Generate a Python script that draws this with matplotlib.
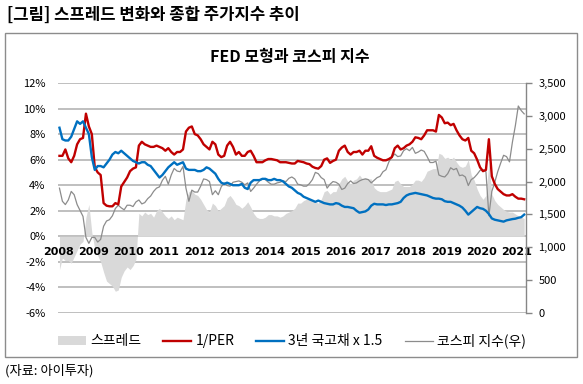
import numpy as np
import matplotlib
matplotlib.use("Agg")
import matplotlib.pyplot as plt
from matplotlib.patches import Patch, Rectangle
from matplotlib.lines import Line2D

plt.rcParams['font.family'] = ['Noto Sans CJK KR', 'DejaVu Sans']

# ---------------- data (monthly, Jan 2008 - Mar 2021) ----------------
years = ["2008", "2009", "2010", "2011", "2012", "2013", "2014",
         "2015", "2016", "2017", "2018", "2019", "2020", "2021"]

# 1/PER (%)
inv_per = [
    6.3, 6.3, 6.8, 6.1, 5.8, 6.3, 7.2, 7.6, 7.7, 9.6, 8.6, 8.0,      # 2008
    5.4, 5.0, 4.8, 2.6, 2.4, 2.35, 2.35, 2.6, 2.5, 3.9, 4.25, 4.6,   # 2009
    5.1, 5.3, 5.4, 7.1, 7.4, 7.2, 7.1, 7.0, 7.0, 7.1, 7.0, 6.9,      # 2010
    6.7, 6.9, 6.6, 6.4, 6.6, 6.6, 6.8, 8.2, 8.5, 8.6, 8.0, 7.9,      # 2011
    7.6, 7.2, 7.0, 6.8, 7.4, 7.2, 6.4, 6.2, 6.3, 7.1, 7.4, 7.0,      # 2012
    6.4, 6.6, 6.3, 6.3, 6.6, 6.7, 6.3, 5.8, 5.8, 5.8, 5.95, 6.05,    # 2013
    6.05, 6.0, 5.95, 5.8, 5.8, 5.8, 5.75, 5.7, 5.7, 5.9, 5.85, 5.8,  # 2014
    5.7, 5.65, 5.45, 5.35, 5.3, 5.5, 6.0, 6.1, 5.75, 5.9, 6.0, 6.7,  # 2015
    6.95, 7.1, 6.6, 6.4, 6.6, 6.6, 6.7, 6.4, 6.7, 6.7, 7.05, 6.3,    # 2016
    6.15, 6.05, 5.95, 5.95, 6.05, 6.2, 6.9, 7.1, 6.8, 6.9, 7.1, 7.2, # 2017
    7.4, 7.75, 7.7, 7.6, 7.9, 8.3, 8.3, 8.3, 8.2, 9.5, 9.3, 8.85,    # 2018
    8.9, 8.7, 8.8, 8.3, 7.9, 7.6, 7.5, 7.7, 6.7, 6.5, 6.0, 5.4,      # 2019
    5.1, 5.2, 7.6, 4.7, 4.1, 3.7, 3.5, 3.3, 3.2, 3.2, 3.3, 3.1,      # 2020
    2.95, 2.95, 2.9,                                                 # 2021
]

# 3-year KTB yield x 1.5 (%)
ktb3y_x15 = [
    8.5, 7.6, 7.5, 7.5, 7.8, 8.4, 9.0, 8.8, 9.0, 8.5, 8.0, 6.2,      # 2008
    5.2, 5.5, 5.5, 5.4, 5.7, 6.0, 6.4, 6.6, 6.5, 6.7, 6.5, 6.3,      # 2009
    6.1, 5.9, 5.8, 5.7, 5.8, 5.8, 5.6, 5.5, 5.2, 4.9, 4.6, 4.8,      # 2010
    5.1, 5.4, 5.6, 5.8, 5.6, 5.7, 5.8, 5.3, 5.2, 5.2, 5.2, 5.1,      # 2011
    5.1, 5.2, 5.4, 5.3, 5.1, 4.9, 4.5, 4.2, 4.1, 4.2, 4.1, 4.0,      # 2012
    4.0, 4.0, 4.1, 3.8, 3.7, 4.2, 4.4, 4.4, 4.4, 4.5, 4.5, 4.4,      # 2013
    4.4, 4.5, 4.4, 4.4, 4.3, 4.1, 3.9, 3.8, 3.6, 3.4, 3.3, 3.1,      # 2014
    3.0, 2.9, 2.8, 2.7, 2.8, 2.7, 2.6, 2.55, 2.5, 2.5, 2.6, 2.55,    # 2015
    2.4, 2.3, 2.3, 2.25, 2.2, 2.0, 1.85, 1.9, 1.95, 2.1, 2.4, 2.55,  # 2016
    2.5, 2.5, 2.5, 2.45, 2.5, 2.5, 2.55, 2.6, 2.7, 3.0, 3.2, 3.3,    # 2017
    3.35, 3.4, 3.35, 3.3, 3.25, 3.2, 3.1, 3.0, 2.95, 2.95, 2.9, 2.75,# 2018
    2.7, 2.7, 2.6, 2.5, 2.4, 2.25, 2.0, 1.7, 1.9, 2.1, 2.3, 2.2,     # 2019
    2.15, 2.0, 1.75, 1.4, 1.3, 1.25, 1.2, 1.15, 1.25, 1.3, 1.35, 1.38,  # 2020
    1.45, 1.5, 1.7,                                                  # 2021
]

# spread (%)
spread = [
    -2.6, -1.7, -1.9, -1.9, -2.1, -1.6, -1.1, -0.6, -0.4, 1.5, 2.5, 0.3,   # 2008
    -1.0, -1.5, -2.0, -2.8, -3.5, -3.7, -3.9, -4.3, -4.2, -3.2, -2.7, -2.4, # 2009
    -2.6, -2.3, -1.8, 1.8, 1.6, 1.9, 1.7, 1.8, 1.5, 2.0, 2.2, 1.9,         # 2010
    1.6, 1.4, 1.6, 1.3, 1.5, 1.4, 1.3, 2.9, 3.5, 3.6, 3.3, 3.2,            # 2011
    2.9, 2.5, 2.1, 1.9, 2.6, 2.4, 2.0, 2.2, 2.4, 3.0, 3.2, 2.9,            # 2012
    2.5, 2.4, 2.2, 2.4, 2.7, 2.3, 1.8, 1.5, 1.4, 1.4, 1.5, 1.7,            # 2013
    1.7, 1.6, 1.6, 1.5, 1.6, 1.8, 1.9, 2.0, 2.2, 2.6, 2.6, 2.8,            # 2014
    2.9, 2.9, 2.8, 2.7, 2.6, 2.9, 3.5, 3.6, 3.3, 3.5, 3.5, 4.1,            # 2015
    4.5, 4.7, 4.3, 4.1, 4.4, 4.5, 4.8, 4.5, 4.6, 4.5, 4.5, 3.8,            # 2016
    3.6, 3.5, 3.5, 3.5, 3.6, 3.7, 4.3, 4.4, 4.1, 3.9, 3.9, 3.9,            # 2017
    4.1, 4.4, 4.4, 4.3, 4.6, 5.1, 5.2, 5.3, 5.3, 6.5, 6.4, 6.1,            # 2018
    6.2, 6.0, 6.2, 5.8, 5.5, 5.4, 5.5, 6.0, 4.8, 4.4, 3.7, 3.2,            # 2019
    2.9, 3.2, 5.8, 3.3, 2.8, 2.5, 2.3, 2.1, 1.95, 1.9, 1.9, 1.75,          # 2020
    1.6, 1.5, 1.4,                                                         # 2021
]

# KOSPI index (right axis)
kospi = [
    1900, 1700, 1650, 1720, 1850, 1800, 1650, 1560, 1470, 1150, 1060, 1150,   # 2008
    1150, 1080, 1120, 1320, 1400, 1420, 1480, 1590, 1640, 1600, 1570, 1640,   # 2009
    1640, 1620, 1690, 1720, 1660, 1680, 1740, 1780, 1850, 1900, 1920, 2020,   # 2010
    2080, 1960, 2100, 2200, 2160, 2150, 2230, 1900, 1700, 1870, 1840, 1840,   # 2011
    1930, 2040, 2030, 2000, 1800, 1860, 1800, 1920, 1980, 1940, 1930, 1990,   # 2012
    2000, 2010, 1990, 1950, 1980, 1850, 1900, 1960, 2010, 2040, 2030, 1990,   # 2013
    1960, 1960, 1980, 1990, 2010, 2000, 2050, 2070, 2040, 1960, 1950, 1930,   # 2014
    1930, 1970, 2030, 2140, 2120, 2060, 2030, 1900, 1960, 2000, 1990, 1960,   # 2015
    1880, 1900, 1970, 2010, 1970, 1980, 2010, 2030, 2040, 2030, 1980, 2020,   # 2016
    2060, 2080, 2150, 2180, 2300, 2370, 2420, 2380, 2390, 2470, 2500, 2470,   # 2017
    2520, 2430, 2450, 2480, 2460, 2380, 2290, 2290, 2310, 2100, 2080, 2070,   # 2018
    2120, 2210, 2180, 2200, 2090, 2100, 2070, 1940, 2030, 2060, 2110, 2170,   # 2019
    2180, 2150, 1480, 1850, 1990, 2150, 2280, 2400, 2380, 2300, 2600, 2850,   # 2020
    3150, 3080, 3030,                                                         # 2021
]

legend_labels = ["스프레드", "1/PER", "3년 국고채 x 1.5", "코스피 지수(우)"]
left_ticks = [12, 10, 8, 6, 4, 2, 0, -2, -4, -6]
right_ticks = [0, 500, 1000, 1500, 2000, 2500, 3000, 3500]

# ---------------- figure ----------------
W, H = 583, 384
fig = plt.figure(figsize=(W / 100, H / 100), dpi=100)

def fx(px):
    return px / W

def fy(py):
    return 1 - py / H

x = 2008 + (np.arange(len(kospi)) + 0.5) / 12.0

ax = fig.add_axes([fx(58), fy(313), fx(526) - fx(58), fy(83) - fy(313)])
ax2 = ax.twinx()
ax3 = ax.twinx()

GRID = "#ADADAD"
# spread area + gridlines on the base axes
ax.fill_between(x, 0, spread, color="#D9D9D9", linewidth=0, zorder=2)
ax.set_ylim(-6, 12)
ax.set_xlim(2008, 2021.26)
ax.set_yticks(left_ticks)
ax.set_yticklabels([f"{v}%" for v in left_ticks], fontsize=8, color="#000000")
ax.tick_params(axis="y", length=0, pad=9)
ax.set_xticks([])
for v in left_ticks:
    ax.axhline(v, color=GRID, linewidth=1.1, zorder=1)
for s in ax.spines.values():
    s.set_visible(False)

# year labels just below the 0% line
for i, yl in enumerate(years):
    ax.text(2008 + i, -1.25, yl, ha="center", va="center", fontsize=8,
            fontweight="bold", zorder=5, family=['DejaVu Sans'])

# KOSPI on the right axis
ax2.plot(x, kospi, color="#8C8C8C", linewidth=0.9, zorder=3)
ax2.set_ylim(0, 3500)
ax2.set_yticks(right_ticks)
ax2.set_yticklabels([f"{v:,}" for v in right_ticks], fontsize=8)
ax2.tick_params(axis="y", length=4, width=1, color="#868686", pad=5)
for k, s in ax2.spines.items():
    s.set_visible(k == "right")
ax2.spines["right"].set_color("#868686")
ax2.spines["right"].set_linewidth(1.0)

# red / blue lines on top
ax3.plot(x, inv_per, color="#C00000", linewidth=1.7, zorder=4)
ax3.plot(x, ktb3y_x15, color="#0070C0", linewidth=1.7, zorder=4)
ax3.set_ylim(ax.get_ylim())
ax3.set_yticks([])
for s in ax3.spines.values():
    s.set_visible(False)

# outer frame
fig.patches.append(Rectangle((fx(5), fy(357)), fx(577) - fx(5), fy(33) - fy(357),
                             transform=fig.transFigure, fill=False,
                             edgecolor="#8C8C8C", linewidth=1.0))

fig.text(fx(7), fy(15), "[그림] 스프레드 변화와 종합 주가지수 추이",
         fontsize=12, fontweight="bold", ha="left", va="center")
fig.text(fx(290), fy(57), "FED 모형과 코스피 지수", fontsize=11.5,
         fontweight="bold", ha="center", va="center")
fig.text(fx(5), fy(371), "(자료: 아이투자)", fontsize=9.5, ha="left", va="center")

handles = [Patch(facecolor="#D9D9D9", edgecolor="none"),
           Line2D([], [], color="#C00000", linewidth=1.7),
           Line2D([], [], color="#0070C0", linewidth=1.7),
           Line2D([], [], color="#8C8C8C", linewidth=0.9)]
fig.legend(handles, legend_labels, loc="center", bbox_to_anchor=(fx(292), fy(341)),
           ncol=4, frameon=False, fontsize=10, handlelength=2.0,
           handletextpad=0.3, columnspacing=1.6)

fig.savefig("out.png", dpi=100)
